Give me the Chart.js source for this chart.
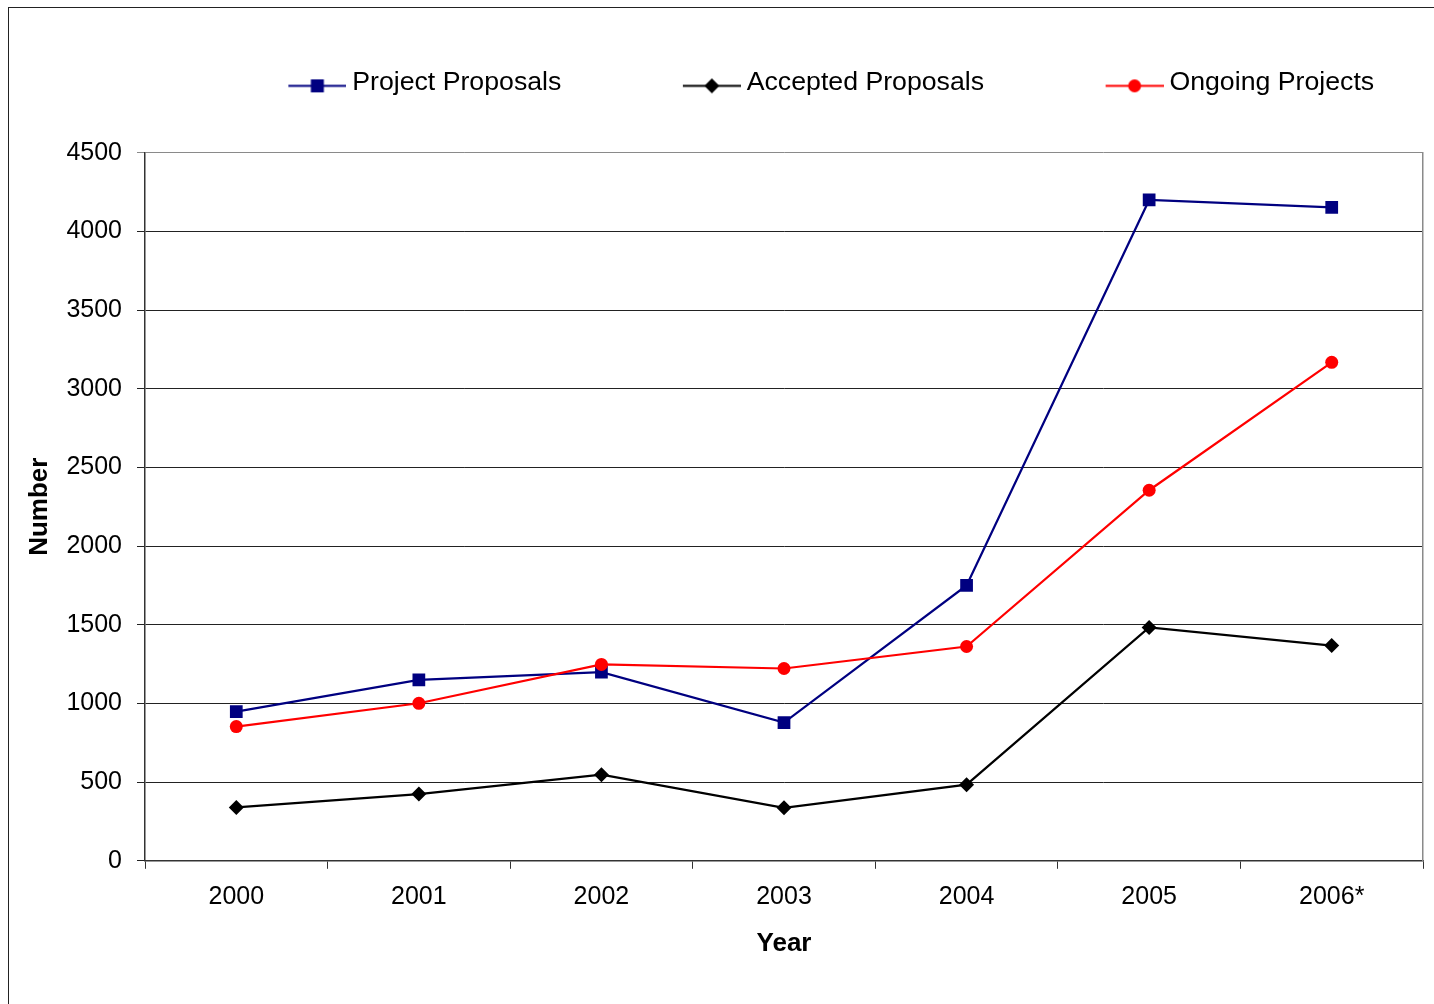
<!DOCTYPE html>
<html>
<head>
<meta charset="utf-8">
<script src="https://cdn.jsdelivr.net/npm/chart.js@4"></script>
<style>
  html, body { margin: 0; padding: 0; background: #fff; overflow: hidden; }
  #frame { position: absolute; left: 8px; top: 7px; width: 1500px; height: 1100px; border: 1px solid #222; }
  #wrap { position: absolute; left: 0; top: 0; width: 1434px; height: 1004px; }
</style>
</head>
<body>
<div id="frame"></div>
<div id="wrap"><canvas id="chart"></canvas></div>
<script>
// data
const years = ['2000', '2001', '2002', '2003', '2004', '2005', '2006*'];
const proposals = [948, 1150, 1199, 878, 1750, 4200, 4152];
const accepted = [339, 424, 547, 337, 484, 1483, 1368];
const ongoing = [853, 1001, 1248, 1222, 1362, 2355, 3168];
const yMax = 4500;
const yStep = 500;

const FONT = "'Liberation Sans', Arial, sans-serif";
const LEG_BOX = 145;   // legend box width, pushes the items apart

// legend sample: short line with the marker in the middle
function legendImg(color, style, r) {
    const c = document.createElement('canvas');
    c.width = LEG_BOX + 15; c.height = 32;
    const g = c.getContext('2d');
    const y = 19.5, x1 = c.width, x0 = x1 - 58, xm = x1 - 29;
    g.strokeStyle = color; g.lineWidth = 2;
    g.beginPath(); g.moveTo(x0, y); g.lineTo(x1, y); g.stroke();
    g.fillStyle = color;
    g.beginPath();
    if (style === 'rect') g.rect(xm - r, y - r, 2 * r, 2 * r);
    else if (style === 'rectRot') { g.moveTo(xm, y - r); g.lineTo(xm + r, y); g.lineTo(xm, y + r); g.lineTo(xm - r, y); g.closePath(); }
    else g.arc(xm, y, r, 0, Math.PI * 2);
    g.fill();
    return c;
}
const legendImgs = [
    legendImg('#000080', 'rect', 6.5),
    legendImg('#000000', 'rectRot', 7.5),
    legendImg('#ff0000', 'circle', 6.5)
];

// extra space under the legend, above the plot
const legendGap = {
    id: 'legendGap',
    afterInit(chart) {
        const fit = chart.legend.fit;
        chart.legend.fit = function() {
            fit.call(this);
            this.height += 47;
        };
    }
};

new Chart(document.getElementById('chart'), {
    type: 'line',
    data: {
        labels: years,
        datasets: [
            { label: 'Project Proposals', data: proposals, borderColor: '#000080', backgroundColor: '#000080',
              borderWidth: 2.2, pointStyle: 'rect', pointRadius: 9, pointBorderWidth: 0, order: 3 },
            { label: 'Accepted Proposals', data: accepted, borderColor: '#000000', backgroundColor: '#000000',
              borderWidth: 2.2, pointStyle: 'rectRot', pointRadius: 7.5, pointBorderWidth: 0, order: 2 },
            { label: 'Ongoing Projects', data: ongoing, borderColor: '#ff0000', backgroundColor: '#ff0000',
              borderWidth: 2.2, pointStyle: 'circle', pointRadius: 6.5, pointBorderWidth: 0, order: 1 }
        ]
    },
    options: {
        responsive: true,
        maintainAspectRatio: false,
        animation: false,
        layout: { padding: { left: 9, right: 11, top: 42, bottom: 0 } },
        plugins: {
            tooltip: { enabled: false },
            legend: {
                position: 'top',
                fullSize: false,
                labels: {
                    font: { family: FONT, size: 26.7 },
                    color: '#000',
                    padding: 27,
                    usePointStyle: true,
                    pointStyleWidth: LEG_BOX,
                    sort: (a, b) => a.datasetIndex - b.datasetIndex,
                    generateLabels(chart) {
                        const items = Chart.defaults.plugins.legend.labels.generateLabels(chart);
                        items.forEach(it => { it.pointStyle = legendImgs[it.datasetIndex]; });
                        return items;
                    }
                }
            }
        },
        scales: {
            x: {
                offset: true,
                grid: { offset: true, drawOnChartArea: false, tickLength: 8, color: '#333', lineWidth: 1 },
                border: { color: '#333', width: 1.5 },
                ticks: { font: { family: FONT, size: 25 }, color: '#000', padding: 13, maxRotation: 0 },
                title: { display: true, text: 'Year', font: { family: FONT, size: 26, weight: 'bold' },
                         color: '#000', padding: { top: 3, bottom: 45 } }
            },
            y: {
                min: 0,
                max: yMax,
                afterFit(scale) { scale.width = 136; },
                ticks: { stepSize: yStep, font: { family: FONT, size: 25 }, color: '#000', padding: 15,
                         callback: v => String(v) },
                grid: {
                    tickLength: 8,
                    lineWidth: 1,
                    color: ctx => (ctx.tick && ctx.tick.value === yMax) ? '#8a8a8a' : '#222'
                },
                border: { color: '#333', width: 1.5 },
                title: { display: true, text: 'Number', font: { family: FONT, size: 26, weight: 'bold' },
                         color: '#000', padding: { top: 15, bottom: 0 } }
            },
            yRight: {
                axis: 'y',
                position: 'right',
                ticks: { display: false },
                grid: { display: false, drawTicks: false, tickLength: 0 },
                border: { display: true, color: '#8a8a8a', width: 1.5 }
            }
        }
    },
    plugins: [legendGap]
});
</script>
</body>
</html>
